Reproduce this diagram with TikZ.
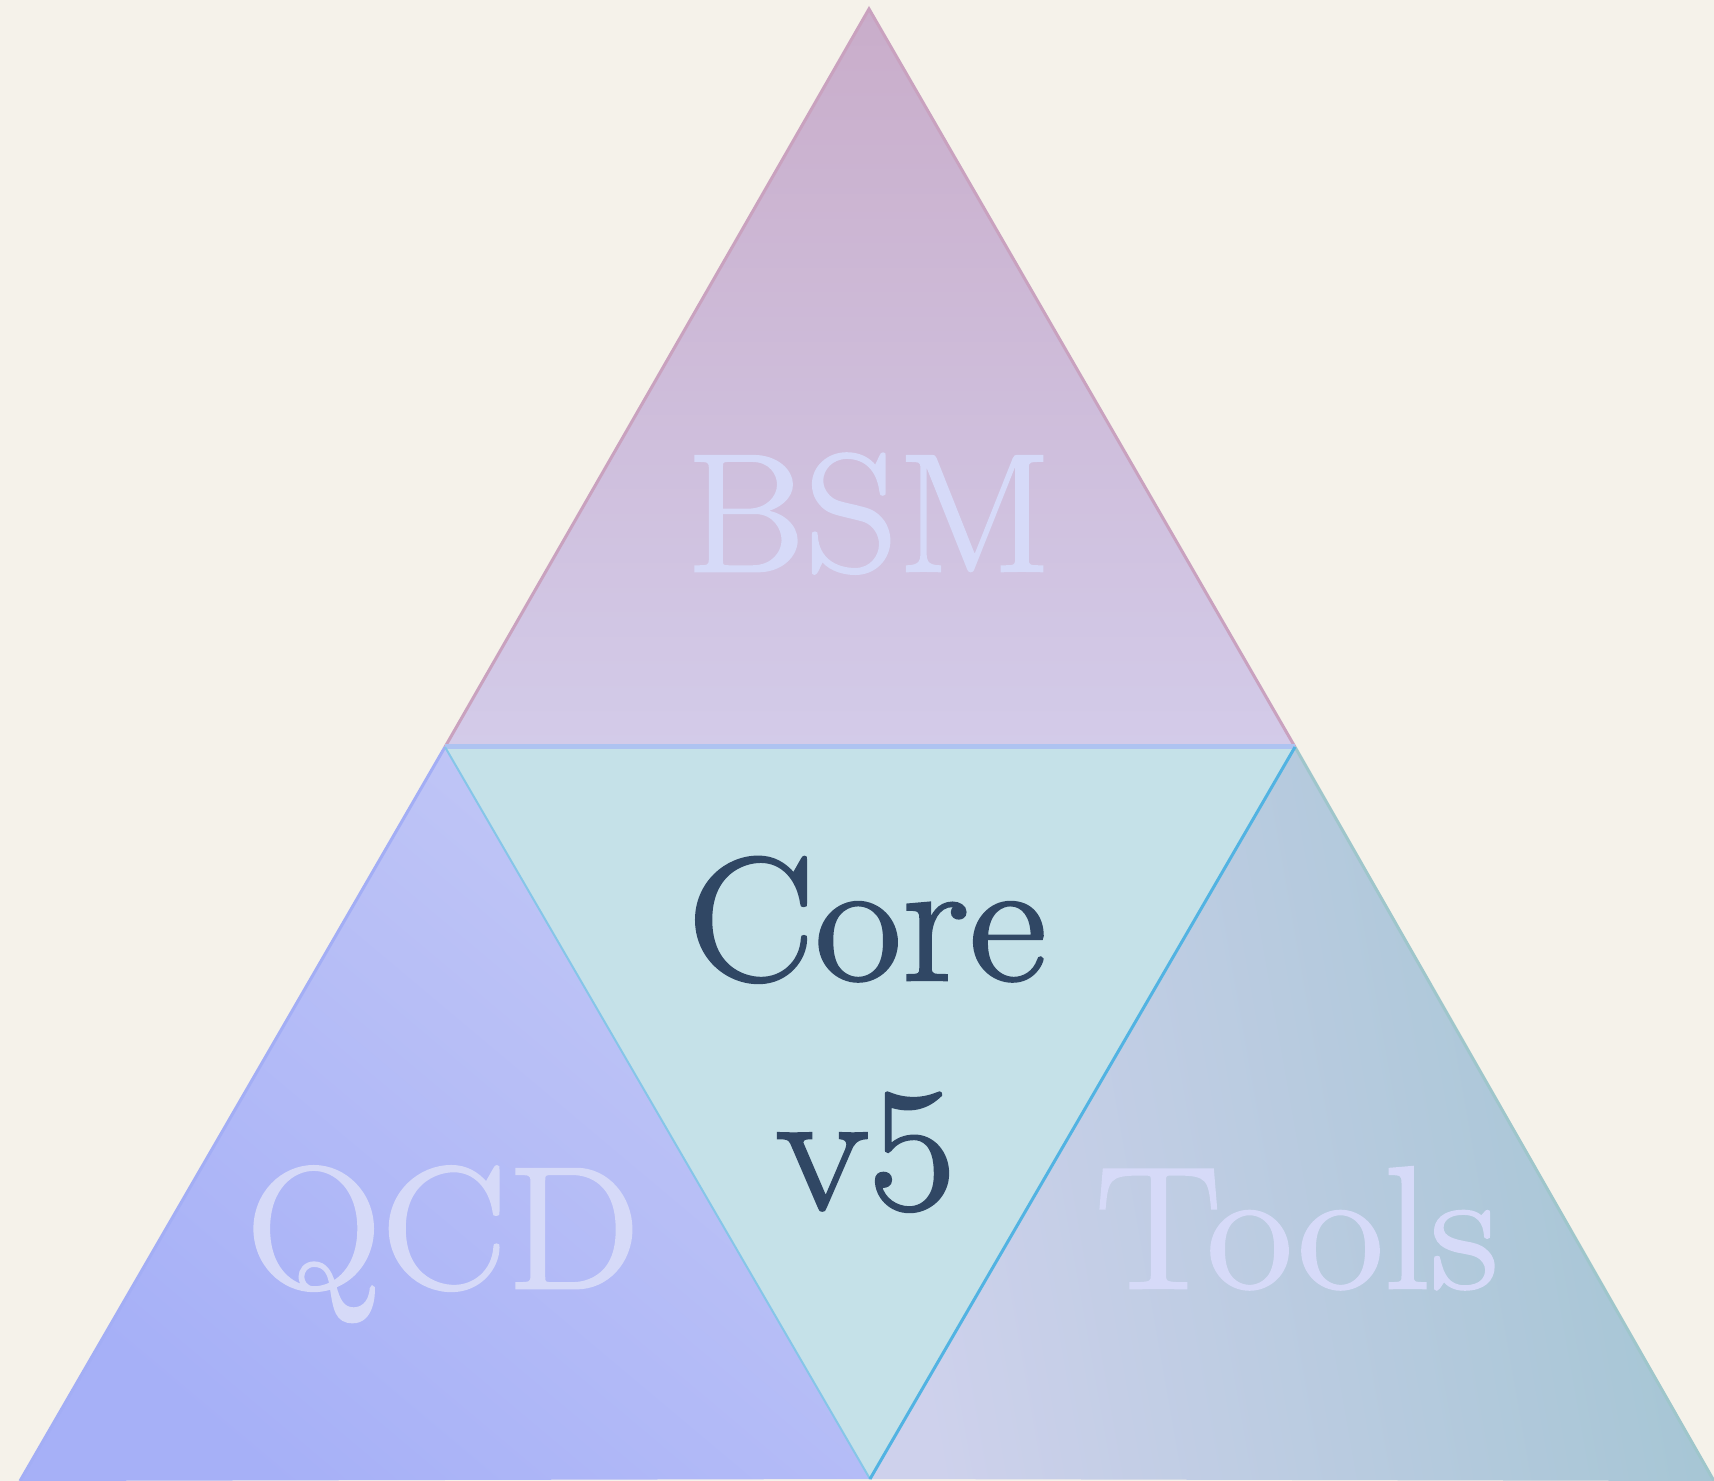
\documentclass[tikz,border=0pt]{standalone}
\usepackage{fontspec}
\setmainfont[FakeBold=1.6, FakeStretch=1.08]{Latin Modern Roman}
\definecolor{paper}{HTML}{F5F2EA}
\definecolor{bsmtop}{HTML}{C9ADCA}
\definecolor{bsmbot}{HTML}{D3CBE9}
\definecolor{bsmedge}{HTML}{C9A2BF}
\definecolor{qcddark}{HTML}{A6B0F7}
\definecolor{qcdlight}{HTML}{C3C8F6}
\definecolor{qcdedge}{HTML}{A3AEF5}
\definecolor{toolsleft}{HTML}{CED1EC}
\definecolor{toolsright}{HTML}{A3C5D3}
\definecolor{toolsedge}{HTML}{9FC6CB}
\definecolor{corefill}{HTML}{C5E1E8}
\definecolor{coreedge}{HTML}{52B3E2}
\definecolor{coretop}{HTML}{AEC3F1}
\definecolor{corethin}{HTML}{86C6E8}
\definecolor{paletext}{HTML}{D6DAF8}
\definecolor{darktext}{HTML}{304764}
\tikzset{
  faint/.style={text=paletext, anchor=base, inner sep=0pt},
  strong/.style={text=darktext, font=\fontsize{176}{176}\selectfont, anchor=base, inner sep=0pt},
}
\begin{document}
\begin{tikzpicture}[x=1pt,y=1pt]
  \fill[paper] (0,0) rectangle (1714,1481);
  \useasboundingbox (0,0) rectangle (1714,1481);
  % corner points of the big triangle and its midpoints
  \coordinate (A)  at (869,1472);
  \coordinate (L)  at (445,734);
  \coordinate (R)  at (1295,734);
  \coordinate (BL) at (20,0);
  \coordinate (BM) at (870,2);
  \coordinate (BR) at (1714,0);
  % upper triangle
  \shade[top color=bsmtop, bottom color=bsmbot] (A) -- (R) -- (L) -- cycle;
  \draw[bsmedge, line width=3pt, line join=miter] (L) -- (A) -- (R);
  % lower left triangle
  \shade[shading=axis, left color=qcddark, right color=qcdlight, shading angle=140] (L) -- (BM) -- (BL) -- cycle;
  \draw[qcdedge, line width=3pt] (BL) -- (L);
  % lower right triangle
  \shade[shading=axis, left color=toolsleft, right color=toolsright, shading angle=100] (R) -- (BR) -- (BM) -- cycle;
  \draw[toolsedge, line width=3pt] (R) -- (BR);
  % central inverted triangle
  \fill[corefill] (L) -- (R) -- (BM) -- cycle;
  \draw[coretop, line width=5pt] (L) -- (R);
  \draw[corethin, line width=2pt] (L) -- (BM);
  \draw[coreedge, line width=3pt] (R) -- (BM);
  % labels
  \node[faint, font=\fontsize{168}{168}\selectfont] (bsm) at (869,910) {BSM};
  \node[faint, font=\fontsize{174}{174}\selectfont] (qcd) at (443,193) {QCD};
  \node[faint, font=\fontsize{174}{174}\selectfont] (tools) at (1297,193) {Tools};
  \node[strong] (core) at (867,501) {Core};
  \node[strong] (ver) at (866,272) {v5};
\end{tikzpicture}
\end{document}
